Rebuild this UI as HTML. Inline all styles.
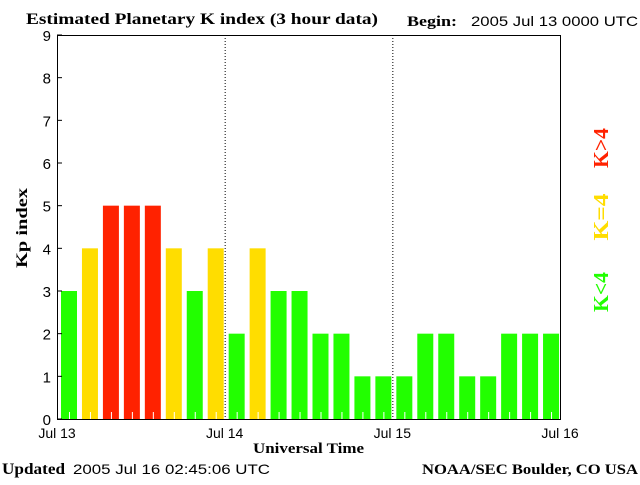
<!DOCTYPE html>
<html><head><meta charset="utf-8"><style>
body{margin:0;background:#fff}
svg text{font-family:"Liberation Sans",sans-serif}
.serif{font-family:"Liberation Serif",serif;font-weight:bold}
</style></head><body>
<svg id="chart" width="640" height="480" xmlns="http://www.w3.org/2000/svg">
<text x="26" y="24" class="serif" font-size="16" textLength="352" lengthAdjust="spacingAndGlyphs">Estimated Planetary K index (3 hour data)</text>
<text x="407" y="26" class="serif" font-size="15" textLength="50" lengthAdjust="spacingAndGlyphs">Begin:</text>
<text x="471" y="26" font-size="14" textLength="167" lengthAdjust="spacingAndGlyphs">2005 Jul 13 0000 UTC</text>
<text transform="translate(27,228) rotate(-90)" text-anchor="middle" class="serif" font-size="16" textLength="80" lengthAdjust="spacingAndGlyphs">Kp index</text>
<text x="253" y="453" class="serif" font-size="15" textLength="111" lengthAdjust="spacingAndGlyphs">Universal Time</text>
<text x="2" y="474" class="serif" font-size="16" textLength="63" lengthAdjust="spacingAndGlyphs">Updated</text>
<text x="73" y="474" font-size="14" textLength="197" lengthAdjust="spacingAndGlyphs">2005 Jul 16 02:45:06 UTC</text>
<text x="422" y="474" class="serif" font-size="15" textLength="216" lengthAdjust="spacingAndGlyphs">NOAA/SEC Boulder, CO USA</text>
<g id="bars"></g>
<g id="axes"></g>
<text transform="translate(608,148) rotate(-90)" text-anchor="middle" class="serif" font-size="21" fill="#ff2200" textLength="40" lengthAdjust="spacingAndGlyphs">K&gt;4</text>
<text transform="translate(608,217) rotate(-90)" text-anchor="middle" class="serif" font-size="21" fill="#ffdd00" textLength="47" lengthAdjust="spacingAndGlyphs">K=4</text>
<text transform="translate(608,292) rotate(-90)" text-anchor="middle" class="serif" font-size="21" fill="#22ff00" textLength="40" lengthAdjust="spacingAndGlyphs">K&lt;4</text>
</svg>
<script>
const kpValues = [3,4,5,5,5,4,3,4, 2,4,3,3,2,2,1,1, 1,2,2,1,1,2,2,2];
const dayLabels = ["Jul 13","Jul 14","Jul 15","Jul 16"];
const yTicks = [0,1,2,3,4,5,6,7,8,9];
const NS="http://www.w3.org/2000/svg";
const L=57,R=560,T=35,B=419;
const slot=(R-L)/kpValues.length;
function xs(i){return L+i*slot;}
function ys(v){return B-(B-T)*v/9;}
function mk(tag,a,parent){const e=document.createElementNS(NS,tag);for(const k in a)e.setAttribute(k,a[k]);parent.appendChild(e);return e;}
const bars=document.getElementById('bars'),axes=document.getElementById('axes');
kpValues.forEach((v,i)=>{
  const col=v>4?'#ff2200':(v===4?'#ffdd00':'#22ff00');
  const r=mk('rect',{x:xs(i)+4,y:ys(v),width:16,height:B-ys(v),fill:col},bars);
  
  
  mk('line',{x1:xs(i)+12.5,x2:xs(i)+12.5,y1:B-7,y2:B,stroke:'#fff'},bars);
});
mk('path',{d:`M${L+0.5},${T+0.5}H${R+0.5}V${B+0.5}H${L+0.5}Z`,fill:'none',stroke:'#000','stroke-width':1},axes);
yTicks.forEach(t=>{
  const y=ys(t);
  mk('line',{x1:L,x2:L+5,y1:y,y2:y,stroke:'#000'},axes);
  const tx=mk('text',{x:L-6,y:y+6,'text-anchor':'end','font-size':15},axes);
  tx.textContent=t;
  
  
});
dayLabels.forEach((d,i)=>{
  const x=L+i*slot*8;
  if(i>0&&i<3) mk('line',{x1:x+0.5,x2:x+0.5,y1:T,y2:B,stroke:'#000','stroke-dasharray':'1,2'},axes);
  const tx=mk('text',{x:x,y:438,'text-anchor':'middle','font-size':14},axes);
  tx.textContent=d;
  
  
});
</script>
</body></html>
